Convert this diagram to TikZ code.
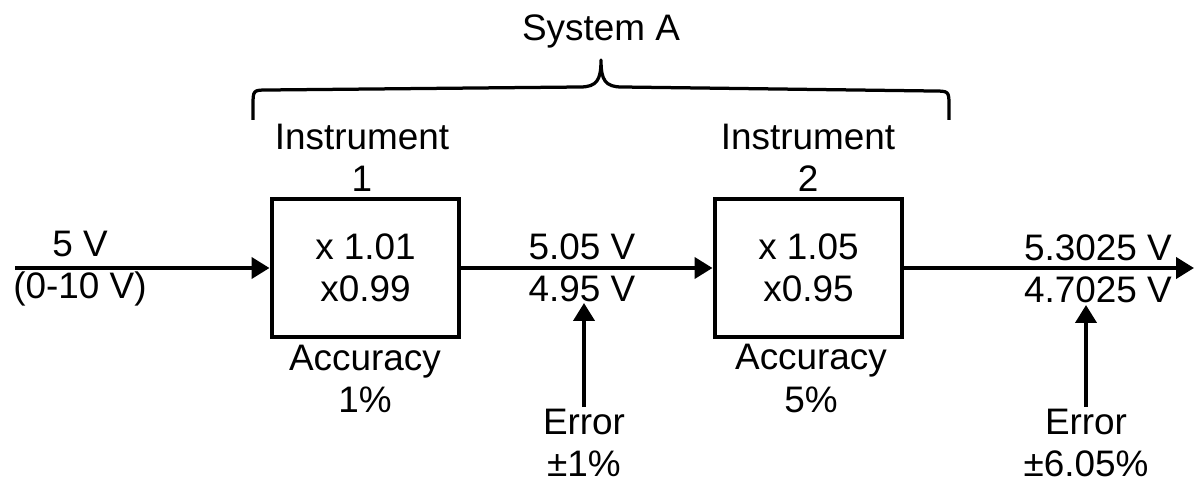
\documentclass[tikz,border=0pt]{standalone}
\usepackage{fontspec}
\setmainfont{Liberation Sans}
\usetikzlibrary{arrows.meta, positioning}

\begin{document}
\begin{tikzpicture}[x=0.02cm, y=-0.02cm,
  every node/.style={font=\fontsize{21}{24}\selectfont, align=center, inner sep=1pt},
  instr/.style={rectangle, draw, line width=0.08cm, minimum width=3.76cm, minimum height=2.76cm},
  arrow/.style={-{Triangle[length=0.36cm, width=0.42cm]}, line width=0.08cm},
  bracket/.style={line width=0.065cm, line join=round}
]
  \useasboundingbox (0,0) rectangle (1196,479);

  \node[instr] (inst1) at (365.5,268) {x 1.01\\x0.99};
  \node[instr] (inst2) at (808.5,268) {x 1.05\\x0.95};

  \node (name1) at (362,157.5) {Instrument\\1};
  \node (name2) at (808,157.5) {Instrument\\2};
  \node (acc1) at (365,378.5) {Accuracy\\1\%};
  \node (acc2) at (811,378.5) {Accuracy\\5\%};

  \node (vin) at (80,268.5) {5 V\\(0-10 V)};
  \node (vmid) at (582,267.5) {5.05 V\\4.95 V};
  \node (vout) at (1098,268.5) {5.3025 V\\4.7025 V};

  \node (err1) at (584,443) {Error\\±1\%};
  \node (err2) at (1086,443) {Error\\±6.05\%};

  % brace over both instruments
  \node[anchor=base] (sys) at (601,41) {System A};
  \draw[bracket] (253,120) -- (253,106) .. controls (253,90) .. (268,90)
    -- (580,87) .. controls (597,87) and (601,80) .. (601,60)
    .. controls (601,80) and (605,87) .. (622,87)
    -- (933,91) .. controls (949,91) .. (949,106) -- (949,120);

  \coordinate (src) at (15,268);
  \coordinate (sink) at (1194,268);
  \coordinate (tip1) at (584,303);
  \coordinate (tip2) at (1086,305);

  \draw[arrow] (src) -- (inst1);
  \draw[arrow] (inst1) -- (inst2);
  \draw[arrow] (inst2) -- (sink);
  \draw[arrow] (err1) -- (tip1);
  \draw[arrow] (err2) -- (tip2);
\end{tikzpicture}
\end{document}
